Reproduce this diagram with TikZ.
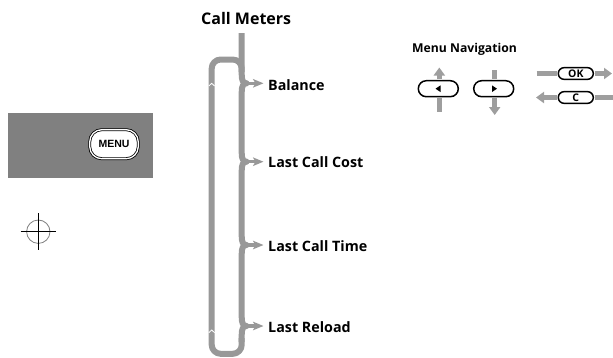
\documentclass[tikz,border=0pt]{standalone}
\usepackage{fontspec}
\setmainfont{Open Sans}
\newfontfamily\menufont{Liberation Sans}
\usepackage{tikz}
\usetikzlibrary{arrows.meta,positioning,calc}
\definecolor{bargray}{RGB}{152,152,152}
\definecolor{panelgray}{RGB}{128,128,128}
\definecolor{navgray}{RGB}{158,158,158}

\begin{document}
\begin{tikzpicture}[x=1pt,y=-1pt,every node/.style={inner sep=0pt},
 bar/.style={draw=bargray,line width=6pt,line join=round},
 tick/.style={draw=bargray,line width=3.2pt,-{Stealth[length=10.5pt,width=8.5pt,inset=2.5pt]}},
 notch/.style={draw=white,line width=0.8pt},
 item/.style={anchor=base west,font=\fontsize{14.3}{16}\selectfont\bfseries},
 navbtn/.style={draw,line width=1.5pt,fill=white,rounded corners=8pt,minimum width=40pt,minimum height=16pt},
 keybtn/.style={draw,line width=1.5pt,fill=white,rounded corners=5.8pt,minimum width=35pt,minimum height=11.7pt,font=\fontsize{10.5}{10}\selectfont\bfseries},
 navarrow/.style={draw=navgray,line width=4.5pt,-{Triangle[width=11pt,length=8pt]}},
 navline/.style={draw=navgray,line width=4.5pt}]
\useasboundingbox (0,0) rectangle (613,357);
% MENU key on its panel
\node[fill=panelgray,minimum width=145pt,minimum height=64.5pt](panel) at (80.5,145.25){};
\node[draw,line width=0.8pt,double=white,double distance=1.3pt,fill=white,rounded corners=12pt,minimum width=48.5pt,minimum height=29pt,font=\menufont\fontsize{10.5}{11}\selectfont\bfseries](menu) at (114,144.2){MENU};
\node[circle,draw=gray,line width=0.8pt,minimum size=23.4pt](target) at (38.3,231.7){};
\draw[line width=0.9pt]($(target.west)+(-5.5,0)$)--($(target.east)+(5.5,0)$);
\draw[line width=0.9pt]($(target.north)+(0,-6.5)$)--($(target.south)+(0,6)$);
% call meters menu
\node[anchor=base west,font=\fontsize{16}{18}\selectfont\bfseries](title) at (201,24){Call Meters};
\node[item](bal) at (268,90){Balance};
\node[item](cost) at (268,167){Last Call Cost};
\node[item](time) at (268,251){Last Call Time};
\node[item](reload) at (268,332){Last Reload};
\coordinate (barTop) at (241.7,33);
\coordinate (barBot) at (241.7,353.8);
\coordinate (loopBot) at (211.7,353.8);
\coordinate (loopTop) at (211.7,59.5);
\coordinate (loopJoin) at (241.7,59.5);
\coordinate (balTip) at (263.5,83.3); \coordinate (balBrace) at (245,83.3);
\coordinate (costTip) at (263.5,161.7); \coordinate (costBrace) at (245,161.7);
\coordinate (timeTip) at (263.5,245); \coordinate (timeBrace) at (245,245);
\coordinate (reloadTip) at (263.5,326); \coordinate (reloadBrace) at (245,326);
\draw[bar](barTop)--(241.7,74.3) .. controls (241.7,80.3) and (243,83.3) .. (246.5,83.3) .. controls (243,83.3) and (241.7,86.3) .. (241.7,92.3)
 --(241.7,152.7) .. controls (241.7,158.7) and (243,161.7) .. (246.5,161.7) .. controls (243,161.7) and (241.7,164.7) .. (241.7,170.7)
 --(241.7,236) .. controls (241.7,242) and (243,245) .. (246.5,245) .. controls (243,245) and (241.7,248) .. (241.7,254)
 --(241.7,317) .. controls (241.7,323) and (243,326) .. (246.5,326) .. controls (243,326) and (241.7,329) .. (241.7,335)--(241.7,342);
\draw[bar,rounded corners=9pt](241.7,338)--(barBot)--(loopBot)--(loopTop)--(loopJoin)--(241.7,72);
\draw[tick](balBrace)--(balTip); \draw[tick](costBrace)--(costTip);
\draw[tick](timeBrace)--(timeTip); \draw[tick](reloadBrace)--(reloadTip);
\draw[notch](208.8,86)--(211.7,83.3)--(214.6,86);
\draw[notch](208.8,332.7)--(211.7,330)--(214.6,332.7);
% menu navigation keys
\node[anchor=base west,font=\fontsize{12.2}{14}\selectfont\bfseries](navtitle) at (412,52.7){Menu Navigation};
\node[navbtn](left) at (438.3,88.7){};
\node[navbtn](right) at (493.7,88.7){};
\fill($(left.center)+(-2.8,0)$)--++(5,-3.3)--++(0,6.6)--cycle;
\fill($(right.center)+(3.3,0)$)--++(-5,-3.3)--++(0,6.6)--cycle;
\coordinate (leftUp) at (439.3,67.5); \coordinate (leftDown) at (439.3,111.7);
\coordinate (rightUp) at (494.7,70); \coordinate (rightDown) at (494.7,115);
\draw[navarrow,shorten <=0.8pt](left.north -| leftUp)--(leftUp);
\draw[navline,shorten <=0.8pt](left.south -| leftDown)--(leftDown);
\draw[navline,shorten <=0.8pt](right.north -| rightUp)--(rightUp);
\draw[navarrow,shorten <=0.8pt](right.south -| rightDown)--(rightDown);
\node[keybtn](ok) at (575.8,73.5){OK};
\node[keybtn](cancel) at (575.8,97.5){C};
\coordinate (okIn) at (536.7,73.5); \coordinate (okOut) at (612,73.5);
\coordinate (cIn) at (613,97.5); \coordinate (cOut) at (536,97.5);
\draw[navline,shorten >=0.8pt](okIn)--(ok.west);
\draw[navarrow,shorten <=0.8pt](ok.east)--(okOut);
\draw[navline,shorten <=0.8pt](cancel.east)--(cIn);
\draw[navarrow,shorten <=0.8pt](cancel.west)--(cOut);
\end{tikzpicture}
\end{document}
